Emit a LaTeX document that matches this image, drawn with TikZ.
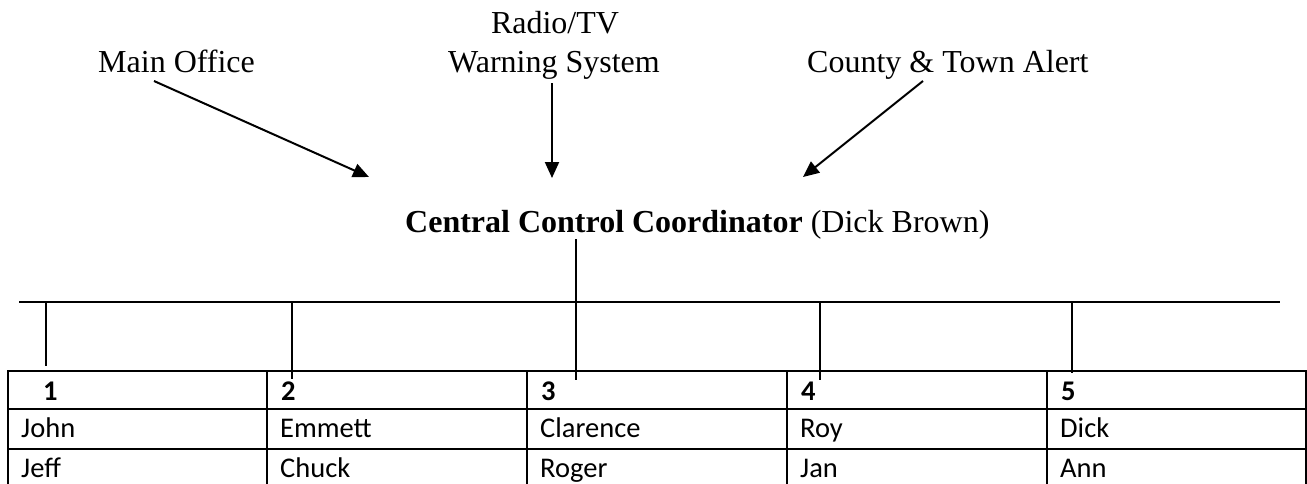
\documentclass[tikz,border=0pt]{standalone}
\usepackage{fontspec}
\setmainfont{Liberation Serif}
\newfontfamily\calfont{Carlito}
\usetikzlibrary{arrows.meta,calc}
\begin{document}
\begin{tikzpicture}[x=1pt,y=-1pt,
  lbl/.style={inner sep=0pt, font=\fontsize{32}{38}\selectfont},
  cell/.style={inner sep=0pt, anchor=base west, font=\calfont\fontsize{28.5}{34}\selectfont},
  hcell/.style={inner sep=0pt, anchor=base west, font=\calfont\bfseries\fontsize{28.5}{34}\selectfont},
  arr/.style={line width=2pt, -{Triangle[length=16pt,width=14pt]}},
  wire/.style={line width=1.8pt},
  gridline/.style={line width=1.8pt}]
\useasboundingbox (0,0) rectangle (1307,483);

% labels
\node[lbl, anchor=base west] (mo) at (98,72) {Main Office};
\node[lbl, anchor=base] (rtv) at (555,33) {Radio/TV};
\node[lbl, anchor=base] (ws) at (554,72) {Warning System};
\node[lbl, anchor=base west] (cta) at (807,72) {County \& Town Alert};
\node[lbl, anchor=base west] (ccc) at (405,232) {\textbf{Central Control Coordinator} (Dick Brown)};

% arrows
\coordinate (t1) at (369,177);
\coordinate (t2) at (552,178);
\coordinate (t3) at (803,177);
\draw[arr] ([xshift=56pt,yshift=-9pt]mo.base west) -- (t1);
\draw[arr] ([xshift=-2pt,yshift=-11pt]ws.base) -- (t2);
\draw[arr] ([xshift=116pt,yshift=-9pt]cta.base west) -- (t3);

% bus and drops
\coordinate (busL) at (19,302);
\coordinate (busR) at (1280,302);
\draw[wire] (busL) -- (busR);
\coordinate (c3) at ($(ccc.base west)+(171,7)$);
\coordinate (b1) at (46,302);
\coordinate (b2) at (292,302);
\coordinate (b4) at (820,302);
\coordinate (b5) at (1072,302);
\coordinate (d1) at (46,366);
\coordinate (d2) at (292,379);
\coordinate (d3) at (576,380);
\coordinate (d4) at (820,380);
\coordinate (d5) at (1072,373);
\draw[wire] (c3) -- (d3);
\draw[wire] (b1) -- (d1);
\draw[wire] (b2) -- (d2);
\draw[wire] (b4) -- (d4);
\draw[wire] (b5) -- (d5);

% table grid
\draw[gridline] (8,484) -- (8,371) -- (1306,371) -- (1306,484);
\draw[gridline] (8,409) -- (1306,409);
\draw[gridline] (8,449) -- (1306,449);
\foreach \x in {267,527,787,1047} \draw[gridline] (\x,371) -- (\x,484);

% table text
\node[hcell] (h1) at (43,400) {1};
\node[hcell] (h2) at (281,400) {2};
\node[hcell] (h3) at (541,400) {3};
\node[hcell] (h4) at (801,400) {4};
\node[hcell] (h5) at (1061,400) {5};
\node[cell] (r1c1) at (21,437) {John};
\node[cell] (r1c2) at (280,437) {Emmett};
\node[cell] (r1c3) at (540,437) {Clarence};
\node[cell] (r1c4) at (800,437) {Roy};
\node[cell] (r1c5) at (1060,437) {Dick};
\node[cell] (r2c1) at (21,477) {Jeff};
\node[cell] (r2c2) at (280,477) {Chuck};
\node[cell] (r2c3) at (540,477) {Roger};
\node[cell] (r2c4) at (800,477) {Jan};
\node[cell] (r2c5) at (1060,477) {Ann};
\end{tikzpicture}
\end{document}
